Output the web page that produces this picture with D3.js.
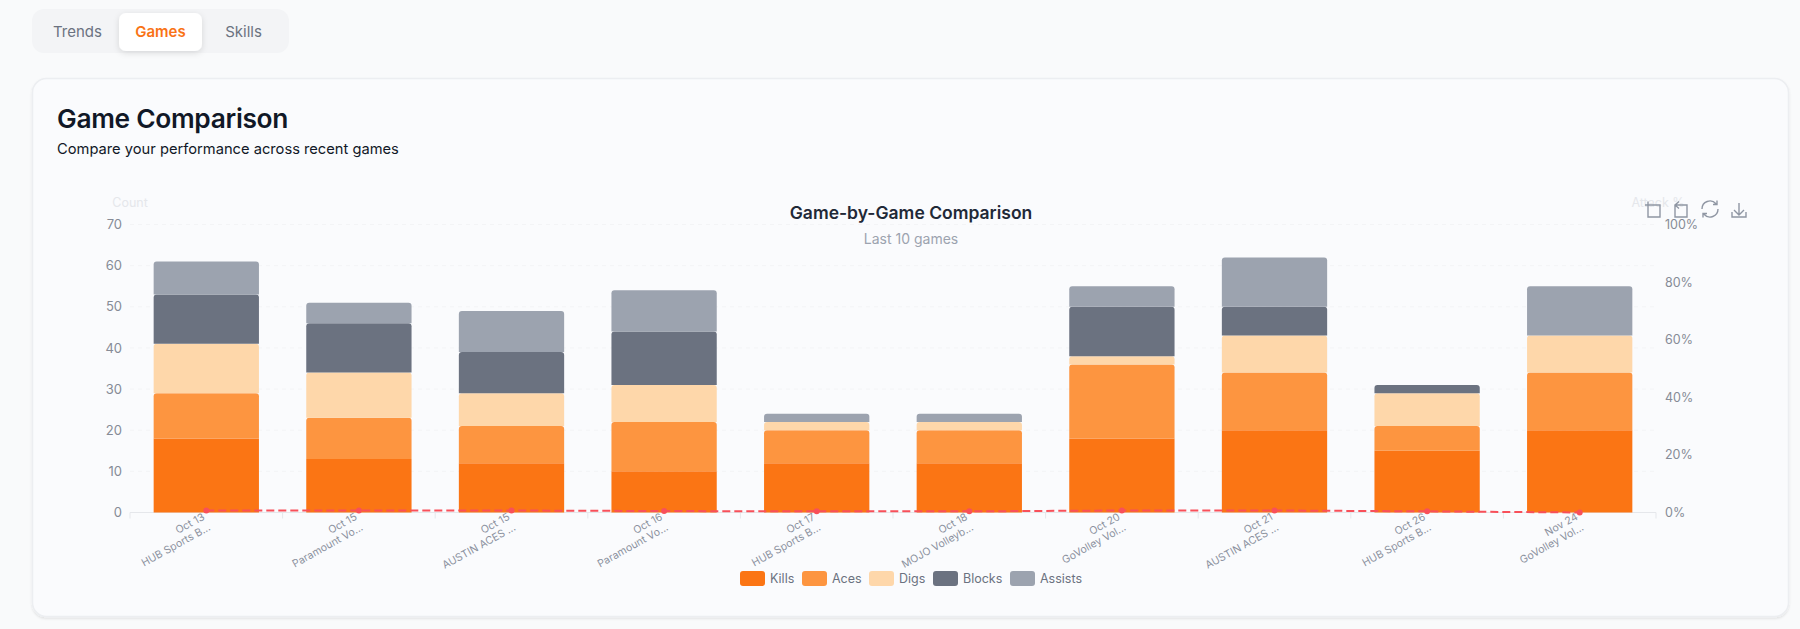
<!DOCTYPE html>
<html><head><meta charset="utf-8">
<script src="https://cdn.jsdelivr.net/npm/d3@7"></script>
<style>html,body{margin:0;padding:0;background:#f9fafb;overflow:hidden}svg{display:block;font-family:Inter,"Noto Sans",sans-serif}</style>
</head><body><svg id="c" width="1800" height="629"></svg>
<script>
const dates=["Oct 13","Oct 15","Oct 15","Oct 16","Oct 17","Oct 18","Oct 20","Oct 21","Oct 26","Nov 24"];
const opponents=["HUB Sports B...","Paramount Vo...","AUSTIN ACES ...","Paramount Vo...","HUB Sports B...","MOJO Volleyb...","GoVolley Vol...","AUSTIN ACES ...","HUB Sports B...","GoVolley Vol..."];
const kills=[18,13,12,10,12,12,18,20,15,20];
const aces=[11,10,9,12,8,8,18,14,6,14];
const digs=[12,11,8,9,2,2,2,9,8,9];
const blocks=[12,12,10,13,0,0,12,7,2,0];
const assists=[8,5,10,10,2,2,5,12,0,12];
const attackPct=[0.7,0.7,0.7,0.5,0.4,0.4,0.7,0.7,0.4,0];
const seriesNames=["Kills","Aces","Digs","Blocks","Assists"];
const seriesColors=["#fb7514","#fd9540","#fed7aa","#6b7280","#9ca3af"];
const countTicks=[0,10,20,30,40,50,60,70];
const pctTicks=[0,20,40,60,80,100];
const tabs=["Trends","Games","Skills"];

const svg=d3.select("#c");
const rows=dates.map((d,i)=>({i,Kills:kills[i],Aces:aces[i],Digs:digs[i],Blocks:blocks[i],Assists:assists[i]}));
const stacked=d3.stack().keys(seriesNames)(rows);

const L=130,R=1656,T=224.5,B=512.5;
const x=d3.scaleBand().domain(d3.range(dates.length)).range([L,R]).paddingInner(0.31).paddingOuter(0.155);
const y=d3.scaleLinear().domain([0,70]).range([B,T]);
const y2=d3.scaleLinear().domain([0,100]).range([B,T]);
const color=d3.scaleOrdinal(seriesNames,seriesColors);

const defs=svg.append("defs");
const sh=defs.append("filter").attr("id","sh").attr("x","-20%").attr("y","-20%").attr("width","140%").attr("height","150%");
sh.append("feDropShadow").attr("dx",0).attr("dy",2).attr("stdDeviation",3).attr("flood-color","#000").attr("flood-opacity",0.12);
const sh2=defs.append("filter").attr("id","sh2").attr("x","-2%").attr("y","-2%").attr("width","104%").attr("height","104%");
sh2.append("feDropShadow").attr("dx",0).attr("dy",1.5).attr("stdDeviation",1.2).attr("flood-color","#000").attr("flood-opacity",0.1);

// tabs
svg.append("rect").attr("x",32).attr("y",9).attr("width",257).attr("height",44).attr("rx",12).attr("fill","#f3f4f6");
svg.append("rect").attr("x",119).attr("y",13).attr("width",83).attr("height",38).attr("rx",7).attr("fill","#fff").attr("filter","url(#sh)");
const tabX=[77.5,160.5,243.5];
svg.selectAll(".tab").data(tabs).join("text").attr("x",(d,i)=>tabX[i]).attr("y",37).attr("text-anchor","middle")
 .attr("font-size",15).attr("font-weight",d=>d==="Games"?600:400).attr("fill",d=>d==="Games"?"#f97316":"#6b7280").text(d=>d);

// card
svg.append("rect").attr("x",32.5).attr("y",78.5).attr("width",1756).attr("height",538).attr("rx",14).attr("fill","#fafbfd").attr("stroke","#eceef1").attr("stroke-width",1.5).attr("filter","url(#sh2)");
svg.append("text").attr("x",57).attr("y",128).attr("font-size",26.3).attr("font-weight",600).attr("fill","#111827").attr("letter-spacing",-0.3).text("Game Comparison");
svg.append("text").attr("x",57).attr("y",154).attr("font-size",14.7).attr("fill","#111827").text("Compare your performance across recent games");

// chart titles
svg.append("text").attr("x",911).attr("y",219).attr("text-anchor","middle").attr("font-size",17.5).attr("font-weight",600).attr("fill","#1f2937").text("Game-by-Game Comparison");
svg.append("text").attr("x",911).attr("y",244).attr("text-anchor","middle").attr("font-size",14).attr("fill","#9ca3af").text("Last 10 games");
svg.append("text").attr("x",130).attr("y",207).attr("text-anchor","middle").attr("font-size",12.5).attr("fill","#e5e7eb").text("Count");
svg.append("text").attr("x",1658).attr("y",207).attr("text-anchor","middle").attr("font-size",12.5).attr("fill","#e5e7eb").text("Attack %");

// grid
svg.append("g").selectAll("line").data(countTicks.filter(d=>d>0)).join("line")
 .attr("x1",L).attr("x2",R).attr("y1",d=>y(d)).attr("y2",d=>y(d)).attr("stroke","#f3f4f6").attr("stroke-dasharray","4 4");

// axes
const yAxis=d3.axisLeft(y).tickValues(countTicks).tickSize(0).tickPadding(8);
const gy=svg.append("g").attr("transform",`translate(${L},0)`).call(yAxis);
gy.select(".domain").remove();
gy.selectAll("text").attr("font-size",13).attr("font-family","Inter").attr("fill","#868b96");
const yAxis2=d3.axisRight(y2).tickValues(pctTicks).tickFormat(d=>d+"%").tickSize(0).tickPadding(9);
const gy2=svg.append("g").attr("transform",`translate(${R},0)`).call(yAxis2);
gy2.select(".domain").remove();
gy2.selectAll("text").attr("font-size",12.5).attr("font-family","Inter").attr("fill","#868b96");

svg.append("line").attr("x1",L).attr("x2",R).attr("y1",B).attr("y2",B).attr("stroke","#e5e7eb");
const xStep=(R-L)/dates.length;
svg.append("g").selectAll("line").data(d3.range(dates.length+1)).join("line")
 .attr("x1",d=>L+d*xStep).attr("x2",d=>L+d*xStep).attr("y1",B).attr("y2",B+6).attr("stroke","#e5e7eb");

// bars
const rtop=(x0,y0,w,h,r)=>{r=Math.min(r,h);return `M${x0},${y0+h}V${y0+r}Q${x0},${y0} ${x0+r},${y0}H${x0+w-r}Q${x0+w},${y0} ${x0+w},${y0+r}V${y0+h}Z`;};
svg.append("g").selectAll("g").data(stacked).join("g").attr("fill",d=>color(d.key))
 .each(function(s){
   const r=s.key==="Kills"?0:3;
   d3.select(this).selectAll("path").data(s.filter(v=>v[1]>v[0])).join("path")
    .attr("d",d=>rtop(x(d.data.i),y(d[1]),x.bandwidth(),y(d[0])-y(d[1]),r));
 });

// line
const cx=i=>x(i)+x.bandwidth()/2;
const line=d3.line().x((d,i)=>cx(i)).y(d=>y2(d));
svg.append("path").datum(attackPct).attr("d",line).attr("fill","none").attr("stroke","#f8505a").attr("stroke-width",2).attr("stroke-dasharray","8 4");
svg.append("g").selectAll("circle").data(attackPct).join("circle").attr("cx",(d,i)=>cx(i)).attr("cy",d=>y2(d)).attr("r",3).attr("fill","#f8505a");

// x labels
const xl=svg.append("g").selectAll("g").data(dates).join("g")
 .attr("transform",(d,i)=>`translate(${cx(i)-1},${B+6.5}) rotate(-29)`);
xl.append("text").attr("text-anchor","end").attr("y",0).attr("font-size",10.5).attr("fill","#8b919e").text(d=>d);
xl.append("text").attr("text-anchor","end").attr("y",12).attr("font-size",10.5).attr("fill","#8b919e").text((d,i)=>opponents[i]);

// legend
const legendX=[740,802,869,933,1010];
const lg=svg.append("g").selectAll("g").data(seriesNames).join("g").attr("transform",(d,i)=>`translate(${legendX[i]},571)`);
lg.append("rect").attr("width",25).attr("height",15).attr("rx",3).attr("fill",d=>color(d));
lg.append("text").attr("x",30).attr("y",12).attr("font-size",12.5).attr("fill","#6b7280").text(d=>d);

// toolbox icons
const ic=svg.append("g").attr("fill","none").attr("stroke","#8f96a3").attr("stroke-width",1.4);
ic.append("path").attr("d","M1648 205h12v12h-12zM1645 205h6M1648 201.500v6");
ic.append("path").attr("d","M1680 205h7v12h-12v-12M1687 205h-12M1675 205m4 -3.500l-4 3.500l4 3.500");
ic.append("path").attr("d","M1702 209a8 8 0 0 1 14 -5.300M1718 209a8 8 0 0 1 -14 5.300M1717 200.500v4h-4M1703 217.500v-4h4");
ic.append("path").attr("d","M1739 203v12M1734 210l5 5l5 -5M1732 212v5h14v-5");
</script></body></html>
